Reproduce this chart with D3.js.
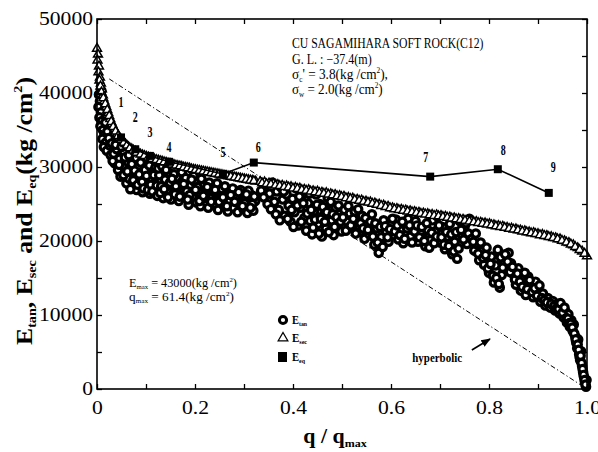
<!DOCTYPE html>
<html><head><meta charset="utf-8">
<script src="https://cdn.jsdelivr.net/npm/d3@7"></script>
<style>body{margin:0;background:#fff}svg{display:block}</style>
</head><body>
<svg id="chart" width="598" height="452"></svg>
<script>
// ---------- data ----------
const xTickValues = [0, 0.2, 0.4, 0.6, 0.8, 1.0];
const xTickLabels = ["0", "0.2", "0.4", "0.6", "0.8", "1.0"];
const yTickValues = [0, 10000, 20000, 30000, 40000, 50000];
const yTickLabels = ["0", "10000", "20000", "30000", "40000", "50000"];

// E_tan (circles) [q/qmax, kg/cm2]
const etan = [
[0.004,39800],[0.006,38900],[0.003,38100],[0.008,37400],[0.005,36700],[0.010,36200],[0.007,35500],[0.012,35000],[0.015,34300],[0.011,33800],[0.018,33300],[0.014,32700],[0.021,34800],[0.024,33900],[0.020,32200],[0.026,32900],[0.028,31600],[0.017,36000],[0.009,40300],
[0.030,33200],[0.034,31800],[0.036,30500],[0.040,32400],[0.043,29600],[0.046,31100],[0.048,28700],[0.052,30200],[0.055,32000],[0.058,29100],[0.060,27800],[0.063,30700],[0.066,28400],[0.069,29800],[0.072,27300],[0.075,31000],[0.078,28900],[0.081,26900],[0.084,30100],[0.087,27900],[0.090,29300],[0.093,26600],[0.096,28500],[0.099,30300],[0.102,27500],[0.105,29000],[0.108,26400],[0.111,28200],[0.114,29700],[0.117,27000],[0.120,28700],
[0.032,30800],[0.038,33000],[0.045,30300],[0.050,32700],[0.054,28900],[0.057,31300],[0.062,29400],[0.065,31600],[0.068,27000],[0.071,30400],[0.074,28200],[0.077,29500],[0.080,31200],[0.083,27600],[0.086,29000],[0.089,30600],[0.092,28000],[0.095,27100],[0.098,29600],[0.101,28800],[0.104,26900],[0.107,30200],[0.110,27600],[0.113,26700],[0.116,28900],[0.119,29900],[0.122,27500],
[0.123,26100],[0.127,28900],[0.131,27400],[0.135,25800],[0.139,28300],[0.143,26800],[0.147,29200],[0.151,25600],[0.155,27700],[0.159,26300],[0.163,28600],[0.167,25400],[0.171,27100],[0.175,28100],[0.179,25900],[0.183,26700],[0.187,24900],[0.191,27600],[0.195,26000],[0.199,28000],[0.203,25200],[0.207,26600],[0.211,24700],[0.215,27400],[0.219,25800],[0.223,26900],[0.227,24500],[0.231,26200],[0.235,27600],[0.239,25000],[0.243,26500],[0.247,24200],[0.251,25700],[0.255,27000],[0.259,24800],[0.263,26100],[0.267,24000],[0.271,25400],[0.275,26700],[0.279,24500],[0.283,25900],[0.287,23900],[0.291,25200],[0.295,26400],[0.299,24300],[0.303,25600],[0.307,23800],[0.311,25000],[0.315,26200],[0.319,24100],[0.323,25400],
[0.125,29800],[0.133,30100],[0.141,29600],[0.149,27900],[0.157,29000],[0.165,27300],[0.173,29300],[0.181,28500],[0.189,26200],[0.197,28800],[0.205,27300],[0.213,28400],[0.221,26000],[0.229,27900],[0.237,26700],[0.245,27800],[0.253,26000],[0.261,27400],[0.269,26300],[0.277,27100],[0.285,25200],[0.293,26900],[0.301,25100],[0.309,26800],[0.317,25000],
[0.129,26500],[0.137,27000],[0.145,25900],[0.153,28400],[0.161,27400],[0.169,26000],[0.177,27700],[0.185,25600],[0.193,28300],[0.201,26900],[0.209,25400],[0.217,26100],[0.225,27300],[0.233,25300],[0.241,26900],[0.249,25300],[0.257,25900],[0.265,24700],[0.273,26200],[0.281,25300],[0.289,26600],[0.297,24700],[0.305,26300],[0.313,24500],[0.321,26000],
[0.345,27600],[0.352,26400],[0.358,27900],[0.362,25300],[0.367,26700],[0.371,24200],[0.375,27300],[0.379,25600],[0.383,23400],[0.387,26300],[0.391,24800],[0.395,22600],[0.399,25700],[0.403,23900],[0.407,27100],[0.411,22100],[0.415,24500],[0.419,26200],[0.423,23100],[0.427,21400],[0.431,25100],[0.435,22700],[0.439,20900],[0.443,24000],[0.447,26300],[0.451,22300],[0.455,25000],[0.459,20600],[0.463,23500],[0.467,21700],[0.471,25800],[0.475,24100],[0.479,22800],[0.483,20800],[0.487,24500],[0.491,22100],[0.495,23600],[0.499,21300],
[0.335,26800],[0.340,25900],[0.348,25000],[0.355,24300],[0.365,23600],[0.373,22800],[0.381,26700],[0.389,23000],[0.397,24200],[0.401,21900],[0.409,24800],[0.413,26000],[0.417,22600],[0.421,25100],[0.429,23700],[0.433,26400],[0.437,24200],[0.441,21800],[0.445,22900],[0.449,24900],[0.453,21000],[0.457,23000],[0.461,24600],[0.465,22600],[0.469,23900],[0.473,21200],[0.477,25300],[0.481,23600],[0.485,21900],[0.489,23200],[0.493,24800],[0.497,22600],
[0.505,24200],[0.511,22600],[0.516,23700],[0.521,21800],[0.526,24000],[0.531,22900],[0.536,21200],[0.541,23400],[0.546,20300],[0.551,22300],[0.556,20900],[0.561,23600],[0.566,19500],[0.571,21700],[0.575,18400],[0.580,20500],[0.585,22800],[0.590,21300],[0.595,19900],[0.600,22100],[0.605,20800],[0.610,22900],[0.615,20200],[0.620,21500],[0.625,19700],[0.630,22400],[0.635,23000],[0.640,20600],[0.645,21800],[0.650,22700],[0.655,19900],[0.660,21200],[0.665,20400],[0.670,19300],[0.675,21500],[0.680,20100],[0.685,22800],[0.690,21300],[0.695,23300],[0.700,19800],[0.705,21900],[0.710,18900],[0.715,20600],[0.720,22300],[0.725,18200],[0.730,19900],[0.735,17600],[0.740,22700],[0.745,20800],[0.750,21900],[0.755,19600],[0.760,23000],
[0.502,23200],[0.508,21400],[0.513,24700],[0.518,22100],[0.523,23000],[0.528,21000],[0.533,24300],[0.538,22400],[0.543,21700],[0.548,23100],[0.553,21500],[0.558,22600],[0.563,20600],[0.568,22400],[0.573,19800],[0.578,21900],[0.583,19200],[0.588,22000],[0.593,20500],[0.598,21600],[0.603,23000],[0.608,21300],[0.613,22100],[0.618,20800],[0.623,22600],[0.628,20300],[0.633,21700],[0.638,22100],[0.643,19800],[0.648,21300],[0.653,22100],[0.658,20500],[0.663,21900],[0.668,20000],[0.673,22400],[0.678,19100],[0.683,21100],[0.688,19700],[0.693,20600],[0.698,22100],[0.703,20500],[0.708,19500],[0.713,21200],[0.718,19300],[0.723,20900],[0.728,18600],[0.733,21200],[0.738,19000],[0.743,21500],[0.748,20200],[0.753,22400],[0.758,21000],
[0.765,20300],[0.770,18700],[0.775,19600],[0.780,17400],[0.785,18600],[0.790,16800],[0.795,19100],[0.800,15700],[0.805,17900],[0.810,14400],[0.813,16700],[0.818,18800],[0.822,13700],[0.826,15400],[0.830,17300],[0.835,16200],[0.840,18400],[0.845,17000],[0.850,15500],[0.855,14100],[0.860,16300],[0.865,13300],[0.870,14800],[0.875,12700],[0.880,15200],[0.885,13900],[0.890,12400],[0.895,14500],[0.900,13200],[0.905,11800],[0.910,12900],[0.915,11300],[0.920,12300],
[0.768,19900],[0.773,21000],[0.778,18300],[0.783,19800],[0.788,17700],[0.793,18100],[0.798,16300],[0.803,16900],[0.808,15300],[0.815,15000],[0.820,14200],[0.824,17800],[0.828,16400],[0.833,18200],[0.838,17200],[0.843,15800],[0.848,16500],[0.853,14800],[0.858,15600],[0.863,14500],[0.868,13800],[0.873,15700],[0.878,13500],[0.883,14700],[0.888,13100],[0.893,13600],[0.898,12600],[0.903,14000],[0.908,12300],[0.913,12000],[0.918,11700],
[0.925,11000],[0.930,11900],[0.935,10600],[0.940,11500],[0.944,10200],[0.948,11100],[0.952,9700],[0.956,10500],[0.959,9000],[0.962,10100],[0.965,8400],[0.968,9300],[0.971,7800],[0.973,8700],[0.976,7100],[0.978,6300],[0.980,5500],[0.982,6700],[0.984,4700],[0.986,3900],[0.988,5100],[0.990,3100],[0.992,2300],[0.994,1600],[0.996,900],[0.998,300],[0.999,1200],
[0.927,11500],[0.933,11200],[0.938,10900],[0.942,10800],[0.946,11600],[0.950,10300],[0.954,11000],[0.958,9600],[0.961,9500],[0.964,8900],[0.967,8800],[0.970,8300],[0.974,7500],[0.977,6700],[0.981,6000],[0.983,5300],[0.985,4300],[0.987,4500],[0.989,3500],[0.991,2700],[0.993,1900],[0.995,1200],[0.997,600]
];

// E_sec (triangles)
const esec = [
[0.000,46000],[0.002,45200],[0.001,44400],[0.004,43600],[0.003,42800],[0.006,42100],[0.008,41300],[0.010,40500],[0.012,39700],[0.015,38900],[0.019,38100],[0.023,37300],[0.027,36500],[0.031,35800],[0.036,35100],[0.041,34500],[0.046,34000],[0.052,33500],[0.058,33100],[0.064,32700],[0.071,32400],[0.078,32100],[0.085,31850],[0.093,31600],[0.101,31400],[0.109,31200],[0.117,31050],[0.125,30900],[0.133,30750],[0.141,30600],[0.149,30450],[0.157,30300],[0.165,30150],[0.173,30050],[0.181,29900],[0.189,29800],[0.197,29650],[0.205,29550],[0.213,29450],[0.221,29350],[0.229,29250],[0.237,29150],[0.245,29050],[0.253,28950],[0.261,28850],[0.269,28750],[0.277,28650],[0.285,28550],[0.293,28450],[0.301,28350],[0.309,28250],[0.317,28150],[0.324,28050],
[0.005,41700],[0.007,40900],[0.009,40100],[0.013,39300],[0.017,38500],[0.021,37700],[0.025,36900],[0.029,36100],[0.033,35400],[0.038,34800],[0.043,34200],[0.049,33700],[0.055,33300],[0.061,32900],[0.067,32550],[0.074,32250],[0.081,31950],[0.089,31700],[0.097,31500],[0.105,31300],[0.113,31100],[0.121,30950],[0.129,30800],[0.137,30650],[0.145,30500],[0.153,30350],[0.161,30200],[0.169,30100],[0.177,29950],[0.185,29850],[0.193,29700],[0.201,29600],[0.209,29500],[0.217,29400],[0.225,29300],[0.233,29200],[0.241,29100],[0.249,29000],[0.257,28900],[0.265,28800],[0.273,28700],[0.281,28600],[0.289,28500],[0.297,28400],[0.305,28300],[0.313,28200],[0.320,28100],
[0.333,28000],[0.342,27950],[0.351,27800],[0.360,27750],[0.369,27600],[0.378,27500],[0.387,27400],[0.396,27300],[0.405,27200],[0.414,27100],[0.423,26950],[0.432,26900],[0.441,26750],[0.450,26700],[0.459,26550],[0.468,26500],[0.477,26350],[0.486,26250],[0.495,26100],[0.504,26000],[0.513,25850],[0.522,25750],[0.531,25600],[0.540,25500],[0.549,25350],[0.558,25250],[0.567,25100],[0.576,24950],[0.585,24800],[0.594,24650],
[0.603,24450],[0.612,24350],[0.621,24250],[0.630,24150],[0.639,24050],[0.648,23950],[0.657,23850],[0.666,23750],[0.675,23650],[0.684,23550],[0.693,23500],[0.702,23400],[0.711,23300],[0.720,23200],[0.729,23100],[0.738,23000],[0.747,22900],[0.756,22800],[0.765,22700],[0.774,22600],[0.783,22500],[0.792,22400],[0.801,22300],[0.810,22150],[0.819,22050],[0.828,21950],[0.837,21800],[0.846,21700],[0.855,21600],[0.864,21450],[0.873,21350],[0.882,21200],[0.891,21100],[0.900,20950],[0.909,20850],[0.918,20700],[0.927,20550],[0.936,20400],[0.945,20250],[0.954,20000],[0.963,19750],[0.972,19450],[0.981,19050],[0.990,18600],[1.000,17950],
[0.337,27800],[0.346,27700],[0.355,27650],[0.364,27500],[0.373,27450],[0.382,27300],[0.391,27250],[0.400,27100],[0.409,27050],[0.418,26900],[0.427,26800],[0.436,26700],[0.445,26600],[0.454,26500],[0.463,26400],[0.472,26300],[0.481,26200],[0.490,26050],[0.499,25950],[0.508,25800],[0.517,25700],[0.526,25550],[0.535,25450],[0.544,25300],[0.553,25200],[0.562,25050],[0.571,24900],[0.580,24750],[0.589,24600],[0.598,24450],[0.607,24300],[0.616,24200],[0.625,24100],[0.634,24000],[0.643,23900],[0.652,23800],[0.661,23700],[0.670,23600],[0.679,23500],[0.688,23400],[0.697,23350],[0.706,23250],[0.715,23150],[0.724,23050],[0.733,22950],[0.742,22850],[0.751,22750],[0.760,22650],[0.769,22550],[0.778,22450],[0.787,22350],[0.796,22250],[0.805,22150],[0.814,22000],[0.823,21900],[0.832,21800],[0.841,21650],[0.850,21550],[0.859,21450],[0.868,21300],[0.877,21200],[0.886,21050],[0.895,20950],[0.904,20800],[0.913,20700],[0.922,20550],[0.931,20400],[0.940,20250],[0.949,20050],[0.958,19800],[0.967,19550],[0.976,19200],[0.985,18800],[0.995,18300]
];

// E_eq (squares, numbered 1-9)
const eqX = [0.049, 0.078, 0.108, 0.147, 0.257, 0.320, 0.680, 0.818, 0.922];
const eqY = [34000, 32400, 31500, 30700, 29050, 30600, 28700, 29700, 26500];
const eqLabels = ["1","2","3","4","5","6","7","8","9"];
const eqLabelX = [0.049, 0.078, 0.108, 0.147, 0.257, 0.329, 0.671, 0.829, 0.931];
const eqLabelY = [38770, 36750, 34720, 32700, 32020, 32700, 31340, 32290, 29990];

// hyperbolic model line and its arrow annotation
const hyperbolicLine = [[0.025, 41900], [1.0, 0]];
const hyperbolicArrow = [[0.765, 5270], [0.802, 6760]];

// ---------- drawing ----------
const svg = d3.select("#chart");
const L = 97, R = 587, T = 19, B = 389;
const x = d3.scaleLinear().domain([0, 1]).range([L, R]);
const y = d3.scaleLinear().domain([0, 50000]).range([B, T]);
const serif = "'Liberation Serif','Times New Roman',serif";

function fit(sel, tx, ty, width, rot) {
  const bb = sel.node().getBBox();
  const s = width / bb.width;
  sel.attr("transform", `translate(${tx},${ty}) rotate(${rot || 0}) scale(${s},1)`);
}
function stretch(sel, k) {
  sel.each(function () {
    const w = this.getComputedTextLength();
    d3.select(this).attr("textLength", w * k).attr("lengthAdjust", "spacingAndGlyphs");
  });
}
function subText(parent, parts, size, weight, anchor) {
  const t = parent.append("text").attr("font-family", serif).attr("font-size", size)
    .attr("font-weight", weight).attr("text-anchor", anchor || "start");
  let pending = 0;
  parts.forEach(p => {
    if (typeof p === "string") {
      const s = t.append("tspan").text(p);
      if (pending) s.attr("dy", -pending);
      pending = 0;
    } else if (p.sub) {
      const d = size * 0.18 - pending;
      t.append("tspan").attr("font-size", size * 0.55).attr("dy", d).text(p.sub);
      pending = size * 0.18;
    } else if (p.sup) {
      const d = -size * 0.4 - pending;
      t.append("tspan").attr("font-size", size * 0.55).attr("dy", d).text(p.sup);
      pending = -size * 0.4;
    }
  });
  return t;
}

// hyperbolic dash-dot line
svg.append("path")
  .attr("d", d3.line().x(d => x(d[0])).y(d => y(d[1]))(hyperbolicLine))
  .attr("fill", "none").attr("stroke", "#000").attr("stroke-width", 1)
  .attr("stroke-dasharray", "5,2.5,1.2,2.5");

// E_tan circles
svg.append("g").selectAll("circle").data(etan).join("circle")
  .attr("cx", d => x(d[0])).attr("cy", d => y(d[1])).attr("r", 3.7)
  .attr("fill", "#fff").attr("stroke", "#000").attr("stroke-width", 3.2);

// E_sec triangles
const tri = d3.symbol().type(d3.symbolTriangle).size(34);
svg.append("g").selectAll("path").data(esec).join("path")
  .attr("d", tri).attr("transform", d => `translate(${x(d[0])},${y(d[1])})`)
  .attr("fill", "#fff").attr("stroke", "#000").attr("stroke-width", 1.5);

// E_eq line + squares
const eqPts = eqX.map((v, i) => [v, eqY[i]]);
svg.append("path")
  .attr("d", d3.line().x(d => x(d[0])).y(d => y(d[1]))(eqPts))
  .attr("fill", "none").attr("stroke", "#000").attr("stroke-width", 1.6);
svg.append("g").selectAll("rect").data(eqPts).join("rect")
  .attr("x", d => x(d[0]) - 4).attr("y", d => y(d[1]) - 4)
  .attr("width", 8).attr("height", 8).attr("fill", "#000");
svg.append("g").selectAll("text").data(eqLabels).join("text")
  .attr("x", (d, i) => x(eqLabelX[i])).attr("y", (d, i) => y(eqLabelY[i]) + 5)
  .attr("text-anchor", "middle").attr("font-family", serif).attr("font-size", 14)
  .attr("font-weight", "bold").text(d => d)
  .attr("textLength", 5).attr("lengthAdjust", "spacingAndGlyphs");

// arrow
svg.append("defs").append("marker").attr("id", "ah").attr("viewBox", "0 0 10 10")
  .attr("refX", 9).attr("refY", 5).attr("markerWidth", 6).attr("markerHeight", 6)
  .attr("orient", "auto").append("path").attr("d", "M0,1 L10,5 L0,9 Z").attr("fill", "#000");
svg.append("line")
  .attr("x1", x(hyperbolicArrow[0][0])).attr("y1", y(hyperbolicArrow[0][1]))
  .attr("x2", x(hyperbolicArrow[1][0])).attr("y2", y(hyperbolicArrow[1][1]))
  .attr("stroke", "#000").attr("stroke-width", 1.6).attr("marker-end", "url(#ah)");
const hyp = svg.append("text").attr("font-family", serif).attr("font-size", 13)
  .attr("font-weight", "bold").attr("text-anchor", "end").text("hyperbolic");
fit(hyp, x(0.745), y(3650), 50);

// frame
svg.append("rect").attr("x", L).attr("y", T).attr("width", R - L).attr("height", B - T)
  .attr("fill", "none").attr("stroke", "#000").attr("stroke-width", 1.6);

// ticks (inward, all sides)
const xMinor = d3.range(0, 11).map(i => i / 10);
const yMinor = d3.range(0, 11).map(i => i * 5000);
const tickAxes = [
  [d3.axisBottom(x).tickValues(xMinor), `translate(0,${B})`],
  [d3.axisTop(x).tickValues(xMinor), `translate(0,${T})`],
  [d3.axisLeft(y).tickValues(yMinor), `translate(${L},0)`],
  [d3.axisRight(y).tickValues(yMinor), `translate(${R},0)`]
];
tickAxes.forEach(([ax, tr]) => {
  const g = svg.append("g").attr("transform", tr)
    .call(ax.tickSize(-5).tickFormat(""));
  g.select(".domain").remove();
  g.selectAll("text").remove();
  g.selectAll("line").attr("stroke", "#000").attr("stroke-width", 1.3);
});

// tick labels
const gx = svg.append("g").attr("transform", `translate(0,${B})`)
  .call(d3.axisBottom(x).tickValues(xTickValues).tickSize(0).tickPadding(12)
    .tickFormat((d, i) => xTickLabels[i]));
gx.select(".domain").remove();
gx.selectAll("text").attr("font-family", serif).attr("font-size", 18).attr("fill", "#000");
stretch(gx.selectAll("text"), 1.2);

const gy = svg.append("g").attr("transform", `translate(${L},0)`)
  .call(d3.axisLeft(y).tickValues(yTickValues).tickSize(0).tickPadding(4)
    .tickFormat((d, i) => yTickLabels[i]));
gy.select(".domain").remove();
gy.selectAll("text").attr("font-family", serif).attr("font-size", 18).attr("fill", "#000");
stretch(gy.selectAll("text"), 1.2);

// axis titles
const yt = subText(svg, ["E", {sub: "tan"}, ", E", {sub: "sec"}, " and E", {sub: "eq"}, "(kg  /cm", {sup: "2"}, ")"], 24, "bold", "middle");
fit(yt, 32, 211, 268, -90);

const xt = subText(svg, ["q / q", {sub: "max"}], 20, "bold", "middle");
fit(xt, 335, 443, 64);

// annotations top right
const a1 = subText(svg, ["CU SAGAMIHARA SOFT ROCK(C12)"], 14, "normal");
fit(a1, 292, 48, 192);
const a2 = subText(svg, ["G. L. : \u221237.4(m)"], 14, "normal");
fit(a2, 292, 64, 80);
const a3 = subText(svg, ["\u03C3", {sub: "c"}, "' = 3.8(kg  /cm", {sup: "2"}, "),"], 14, "normal");
fit(a3, 292, 79, 96);
const a4 = subText(svg, ["\u03C3", {sub: "w"}, " = 2.0(kg  /cm", {sup: "2"}, ")"], 14, "normal");
fit(a4, 292, 94, 91);

// lower-left notes
const n1 = subText(svg, ["E", {sub: "max"}, " = 43000(kg  /cm", {sup: "2"}, ")"], 13, "normal");
fit(n1, 129, 287, 108);
const n2 = subText(svg, ["q", {sub: "max"}, " = 61.4(kg  /cm", {sup: "2"}, ")"], 13, "normal");
fit(n2, 129, 301, 105);

// legend
const lg = svg.append("g");
lg.append("circle").attr("cx", 283).attr("cy", 320).attr("r", 3.6)
  .attr("fill", "#fff").attr("stroke", "#000").attr("stroke-width", 3);
lg.append("path").attr("d", d3.symbol().type(d3.symbolTriangle).size(40))
  .attr("transform", "translate(283,338)").attr("fill", "#fff").attr("stroke", "#000").attr("stroke-width", 1.3);
lg.append("rect").attr("x", 278).attr("y", 352).attr("width", 9).attr("height", 10).attr("fill", "#000");
const l1 = subText(lg, ["E", {sub: "tan"}], 13, "bold"); fit(l1, 292, 324, 15);
const l2 = subText(lg, ["E", {sub: "sec"}], 13, "bold"); fit(l2, 292, 342, 15);
const l3 = subText(lg, ["E", {sub: "eq"}], 13, "bold"); fit(l3, 292, 361, 13);
</script>
</body></html>
